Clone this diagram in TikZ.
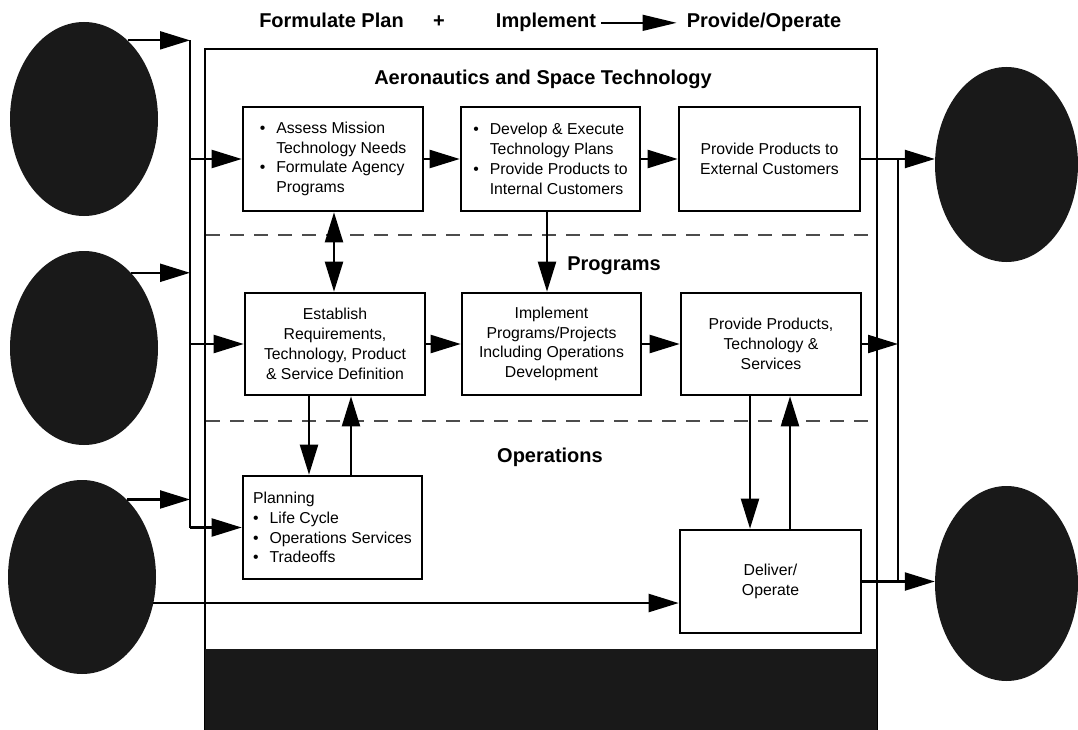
\documentclass[tikz,border=0pt]{standalone}
\usepackage{fontspec}
\setmainfont{Liberation Sans}
\usetikzlibrary{arrows.meta,shapes.geometric}

% bullet and hanging indent for list lines inside boxes
\newcommand{\bul}{\makebox[16.5pt][l]{\textbullet}}
\newcommand{\ind}{\hspace*{16.5pt}}

\begin{document}
\begin{tikzpicture}[x=1pt,y=-1pt,
  box/.style={draw, line width=2.6pt, rectangle, inner sep=0pt,
    font=\fontsize{15.8}{19.8}\selectfont, align=center},
  blob/.style={ellipse, fill=black!90, draw=none, inner sep=0pt,
    minimum width=148pt, minimum height=194pt},
  lbl/.style={font=\bfseries\fontsize{20}{24}\selectfont, inner sep=0pt, anchor=base},
  wire/.style={line width=2.2pt},
  arr/.style={wire, -{Triangle[length=30pt,width=18pt]}},
  darr/.style={wire, {Triangle[length=30pt,width=18pt]}-{Triangle[length=30pt,width=18pt]}},
  sep/.style={dash pattern=on 14pt off 10pt, line width=1.3pt, black!70},
]
\useasboundingbox (0,0) rectangle (1078,730);

% outer frame, band separators and the dark footer band
\draw[line width=2pt] (205,730) -- (205,49) -- (877,49) -- (877,730);
\fill[black!90] (205,649) rectangle (877,730);
\draw[sep] (206,235) -- (876,235);
\draw[sep] (206,421) -- (876,421);

% header line
\node[lbl] (hplan) at (331.5,28) {Formulate Plan};
\node[lbl] (hplus) at (439,28) {+};
\node[lbl] (himpl) at (546,28) {Implement};
\node[lbl] (hprov) at (764,28) {Provide/Operate};
\draw[line width=1.4pt, -{Triangle[length=34pt,width=16pt]}]
  ([xshift=5pt]himpl.east) -- ([xshift=-10pt]hprov.west);

% band titles
\node[lbl] (tast) at (543,85) {Aeronautics and Space Technology};
\node[lbl] (tprog) at (614,270) {Programs};
\node[lbl] (tops) at (550,462) {Operations};

% customer ellipses
\node[blob] (e1) at (84,119) {};
\node[blob] (e2) at (84,348) {};
\node[blob] (e3) at (82,577) {};
\node[blob, minimum width=143pt, minimum height=195pt] (e4) at (1006.5,164.5) {};
\node[blob, minimum width=143pt, minimum height=195pt] (e5) at (1006.5,583.5) {};

% process boxes
\node[box, minimum width=180pt, minimum height=104pt, align=left] (assess) at (333,159)
  {\bul Assess Mission\\\ind Technology Needs\\\bul Formulate Agency\\\ind Programs};
\node[box, minimum width=179pt, minimum height=104pt, align=left] (develop) at (550.5,159)
  {\bul Develop \& Execute\\\ind Technology Plans\\\bul Provide Products to\\\ind Internal Customers};
\node[box, minimum width=181pt, minimum height=104pt] (ext) at (769.5,159)
  {Provide Products to\\External Customers};
\node[box, minimum width=180pt, minimum height=102pt] (establish) at (335,344)
  {Establish\\Requirements,\\Technology, Product\\\& Service Definition};
\node[box, minimum width=179pt, minimum height=102pt] (implement) at (551.5,344)
  {Implement\\Programs/Projects\\Including Operations\\Development};
\node[box, minimum width=180pt, minimum height=102pt] (tech) at (771,344)
  {Provide Products,\\Technology \&\\Services};
\node[box, minimum width=179pt, minimum height=103pt, align=left] (planning) at (332.5,527.5)
  {Planning\\\bul Life Cycle\\\bul Operations Services\\\bul Tradeoffs};
\node[box, minimum width=181pt, minimum height=103pt] (deliver) at (770.5,581.5)
  {Deliver/\\Operate};

% bus lines and connector columns
\coordinate (lbus) at (190,0);
\coordinate (rbus) at (898,0);
\coordinate (xa) at (334,0);
\coordinate (xb) at (547,0);
\coordinate (xc) at (309,0);
\coordinate (xd) at (351,0);
\coordinate (xe) at (750,0);
\coordinate (xf) at (790,0);

% inputs from the left
\draw[wire] (e1.61.4 -| lbus) -- (planning.west -| lbus);
\draw[arr] (e1.61.4) -- (e1.61.4 -| lbus);
\draw[arr] (e2.58.8) -- (e2.58.8 -| lbus);
\draw[arr] (e3.60.6) -- (e3.60.6 -| lbus);
\draw[arr] (assess.west -| lbus) -- (assess.west);
\draw[arr] (establish.west -| lbus) -- (establish.west);
\draw[arr] (planning.west -| lbus) -- (planning.west);
\draw[arr] (e3.-20.8) -- (e3.-20.8 -| deliver.west);

% flows between boxes
\draw[arr] (assess.east) -- (develop.west);
\draw[arr] (develop.east) -- (ext.west);
\draw[arr] (establish.east) -- (implement.west);
\draw[arr] (implement.east) -- (tech.west);
\draw[darr] (xa |- assess.south) -- (xa |- establish.north);
\draw[arr] (xb |- develop.south) -- (xb |- implement.north);
\draw[arr] (xc |- establish.south) -- (xc |- planning.north);
\draw[arr] (xd |- planning.north) -- (xd |- establish.south);
\draw[arr] (xe |- tech.south) -- (xe |- deliver.north);
\draw[arr] (xf |- deliver.north) -- (xf |- tech.south);

% outputs to the right
\draw[wire] (ext.east -| rbus) -- (deliver.east -| rbus);
\draw[arr] (ext.east) -- (ext.east -| e4.west);
\draw[arr] (tech.east) -- (tech.east -| rbus);
\draw[arr] (deliver.east) -- (deliver.east -| e5.west);
\end{tikzpicture}
\end{document}
